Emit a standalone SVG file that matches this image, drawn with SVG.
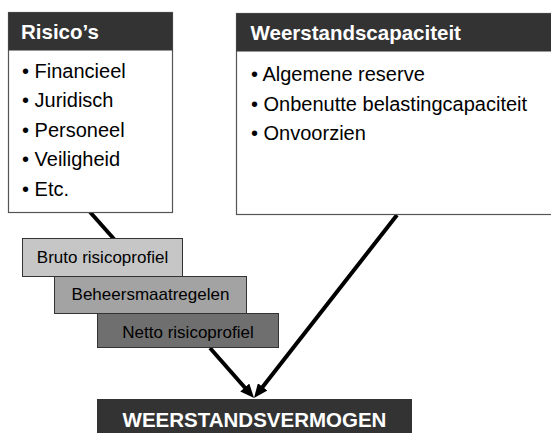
<svg xmlns="http://www.w3.org/2000/svg" width="551" height="433" viewBox="0 0 551 433">
<style>
.box{fill:#ffffff;stroke:#555555;stroke-width:1.2}
.hdr{fill:#333333}
.ht{font-family:"Liberation Sans",Arial,sans-serif;font-weight:bold;font-size:20.5px;fill:#ffffff}
.bt{font-family:"Liberation Sans",Arial,sans-serif;font-size:20px;fill:#000000}
.st{font-family:"Liberation Sans",Arial,sans-serif;font-size:17px;fill:#000000;text-anchor:middle}
.step{stroke:#333333;stroke-width:1}
.conn{stroke:#000000;stroke-width:4;fill:none}
</style>
<defs>
<marker id="arr" markerUnits="userSpaceOnUse" markerWidth="14" markerHeight="12" viewBox="0 0 14 12" refX="2" refY="6" orient="auto">
<path d="M0,0 L14,6 L0,12 z" fill="#000000"/>
</marker>
</defs>
<g id="connectors">
<line class="conn" x1="90" y1="212" x2="114" y2="239"/>
<line class="conn" x1="210" y1="348" x2="246.1" y2="389" marker-end="url(#arr)"/>
<line class="conn" x1="397" y1="215" x2="261.4" y2="388.5" marker-end="url(#arr)"/>
</g>
<g id="risicos">
<rect class="box" x="8.5" y="12.5" width="164" height="200"/>
<rect class="hdr" x="8.5" y="12.5" width="164" height="38"/>
<text class="ht" x="21" y="39">Risico’s</text>
<text class="bt" x="22" y="77.5">• Financieel</text>
<text class="bt" x="22" y="107">• Juridisch</text>
<text class="bt" x="22" y="136.5">• Personeel</text>
<text class="bt" x="22" y="166">• Veiligheid</text>
<text class="bt" x="22" y="195.5">• Etc.</text>
</g>
<g id="weerstandscapaciteit">
<rect class="box" x="236.5" y="13.5" width="320" height="201"/>
<rect class="hdr" x="236.5" y="13.5" width="320" height="38"/>
<text class="ht" x="250.5" y="39.5">Weerstandscapaciteit</text>
<text class="bt" x="251" y="81">• Algemene reserve</text>
<text class="bt" x="251" y="110.5">• Onbenutte belastingcapaciteit</text>
<text class="bt" x="251" y="140">• Onvoorzien</text>
</g>
<g id="bruto">
<rect class="step" x="22.5" y="238.5" width="160" height="38" fill="#c6c6c6"/>
<text class="st" x="102.5" y="262.5">Bruto risicoprofiel</text>
</g>
<g id="beheers">
<rect class="step" x="54.5" y="276.5" width="192" height="37" fill="#a3a3a3"/>
<text class="st" x="150.5" y="300">Beheersmaatregelen</text>
</g>
<g id="netto">
<rect class="step" x="97.5" y="313.5" width="181" height="34" fill="#6f6f6f"/>
<text class="st" x="188" y="338">Netto risicoprofiel</text>
</g>
<g id="weerstandsvermogen">
<rect x="97" y="399" width="315" height="40" fill="#333333"/>
<text class="ht" x="254.5" y="427" text-anchor="middle">WEERSTANDSVERMOGEN</text>
</g>
</svg>
